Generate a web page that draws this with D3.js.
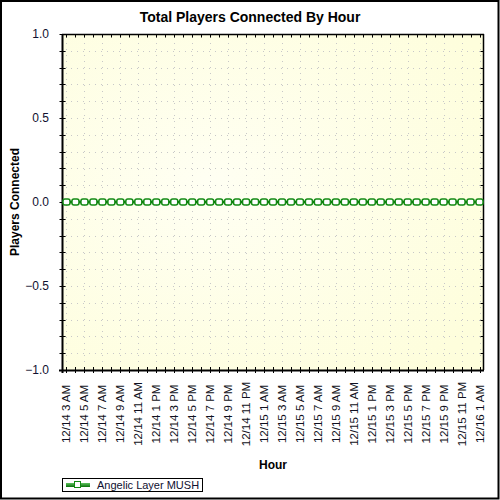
<!DOCTYPE html>
<html>
<head>
<meta charset="utf-8">
<script src="https://cdn.jsdelivr.net/npm/d3@7/dist/d3.min.js"></script>
<style>
  html, body { margin: 0; padding: 0; background: #fff; }
  svg { display: block; }
  text { font-family: Arial, "Liberation Sans", sans-serif; }
</style>
</head>
<body>
<svg id="chart" width="500" height="500"></svg>
<script>
// ---- data ----
const categories = [
  "12/14 3 AM","12/14 4 AM","12/14 5 AM","12/14 6 AM","12/14 7 AM","12/14 8 AM","12/14 9 AM","12/14 10 AM",
  "12/14 11 AM","12/14 12 PM","12/14 1 PM","12/14 2 PM","12/14 3 PM","12/14 4 PM","12/14 5 PM","12/14 6 PM",
  "12/14 7 PM","12/14 8 PM","12/14 9 PM","12/14 10 PM","12/14 11 PM",
  "12/15 12 AM","12/15 1 AM","12/15 2 AM","12/15 3 AM","12/15 4 AM","12/15 5 AM","12/15 6 AM","12/15 7 AM",
  "12/15 8 AM","12/15 9 AM","12/15 10 AM","12/15 11 AM","12/15 12 PM","12/15 1 PM","12/15 2 PM","12/15 3 PM",
  "12/15 4 PM","12/15 5 PM","12/15 6 PM","12/15 7 PM","12/15 8 PM","12/15 9 PM","12/15 10 PM","12/15 11 PM",
  "12/16 12 AM","12/16 1 AM"
];
const playersConnected = [
  0,0,0,0,0,0,0,0,0,0,0,0,0,0,0,0,0,0,0,0,0,
  0,0,0,0,0,0,0,0,0,0,0,0,0,0,0,0,0,0,0,0,0,0,0,0,
  0,0
];
const tickLabels = [
  "12/14 3 AM","12/14 5 AM","12/14 7 AM","12/14 9 AM","12/14 11 AM","12/14 1 PM","12/14 3 PM","12/14 5 PM",
  "12/14 7 PM","12/14 9 PM","12/14 11 PM","12/15 1 AM","12/15 3 AM","12/15 5 AM","12/15 7 AM","12/15 9 AM",
  "12/15 11 AM","12/15 1 PM","12/15 3 PM","12/15 5 PM","12/15 7 PM","12/15 9 PM","12/15 11 PM","12/16 1 AM"
];
const yMajorTicks = [-1.0, -0.5, 0.0, 0.5, 1.0];
const yMinorTicks = [-1.0,-0.9,-0.8,-0.7,-0.6,-0.5,-0.4,-0.3,-0.2,-0.1,0,0.1,0.2,0.3,0.4,0.5,0.6,0.7,0.8,0.9,1.0];
const seriesName = "Angelic Layer MUSH";
const chartTitle = "Total Players Connected By Hour";
const xTitle = "Hour";
const yTitle = "Players Connected";

// ---- layout ----
const svg = d3.select("#chart");
const W = 500, H = 500;
const plot = { left: 62, right: 484, top: 34, bottom: 370 };

const x = d3.scaleBand().domain(categories).range([plot.left, plot.right]).padding(0);
const cx = d => x(d) + x.bandwidth() / 2;
const y = d3.scaleLinear().domain([-1, 1]).range([plot.bottom, plot.top]);

// defs
const defs = svg.append("defs");
const bg = defs.append("radialGradient").attr("id", "bgGrad")
  .attr("cx", "35%").attr("cy", "45%").attr("r", "75%");
bg.append("stop").attr("offset", "0%").attr("stop-color", "#fffff3");
bg.append("stop").attr("offset", "100%").attr("stop-color", "#fefedc");
const lg = defs.append("linearGradient").attr("id", "legGrad")
  .attr("x1", 0).attr("y1", 0).attr("x2", 0).attr("y2", 1);
lg.append("stop").attr("offset", "0%").attr("stop-color", "#5fc25f");
lg.append("stop").attr("offset", "100%").attr("stop-color", "#0a700a");

// outer background and border
svg.append("rect").attr("x", 0).attr("y", 0).attr("width", W).attr("height", H).attr("fill", "#fff");
svg.append("rect").attr("x", 1).attr("y", 1).attr("width", W - 2.5).attr("height", H - 2.5)
  .attr("fill", "none").attr("stroke", "#000").attr("stroke-width", 2);

// plot background
svg.append("rect").attr("x", plot.left).attr("y", plot.top)
  .attr("width", plot.right - plot.left).attr("height", plot.bottom - plot.top)
  .attr("fill", "url(#bgGrad)");

// grid
const grid = svg.append("g").attr("stroke", "#c8c8c8").attr("stroke-width", 1)
  .attr("stroke-dasharray", "1,5");
grid.selectAll("line.v").data(tickLabels).join("line").attr("class", "v")
  .attr("x1", d => Math.round(cx(d)) + 0.5).attr("x2", d => Math.round(cx(d)) + 0.5)
  .attr("y1", plot.top + 3).attr("y2", plot.bottom);
grid.selectAll("line.h").data(yMinorTicks.slice(1, -1)).join("line").attr("class", "h")
  .attr("y1", d => Math.round(y(d)) + 0.5).attr("y2", d => Math.round(y(d)) + 0.5)
  .attr("x1", plot.left + 3).attr("x2", plot.right);

// axes
const axisColor = "#000";
// left axis
const leftAxis = d3.axisLeft(y).tickValues(yMinorTicks).tickSize(3).tickFormat("");
const gl = svg.append("g").attr("transform", `translate(${plot.left + 0.5},0)`).call(leftAxis);
gl.select(".domain").remove();
gl.selectAll(".tick line").attr("x2", -3).attr("x1", 3).attr("stroke", axisColor);
gl.selectAll(".tick").attr("transform", d => `translate(0,${Math.round(y(d)) + 0.5})`);
svg.append("line").attr("x1", plot.left + 0.5).attr("x2", plot.left + 0.5)
  .attr("y1", plot.top).attr("y2", plot.bottom + 3).attr("stroke", axisColor).attr("stroke-width", 2);

// y tick labels
const labAxis = d3.axisLeft(y).tickValues(yMajorTicks).tickSize(0).tickPadding(13)
  .tickFormat(d3.format(".1f"));
const gll = svg.append("g").attr("transform", `translate(${plot.left},0)`).call(labAxis);
gll.select(".domain").remove();
gll.selectAll(".tick text").attr("font-size", 12).attr("fill", "#101030")
  .attr("font-family", "Arial, 'Liberation Sans', sans-serif");

// right axis
const rightAxis = d3.axisRight(y).tickValues(yMinorTicks).tickSize(-3).tickFormat("");
const gr = svg.append("g").attr("transform", `translate(${plot.right - 0.5},0)`).call(rightAxis);
gr.select(".domain").remove();
gr.selectAll(".tick line").attr("stroke", axisColor);
gr.selectAll(".tick").attr("transform", d => `translate(0,${Math.round(y(d)) + 0.5})`);
svg.append("line").attr("x1", plot.right - 0.5).attr("x2", plot.right - 0.5)
  .attr("y1", plot.top).attr("y2", plot.bottom).attr("stroke", axisColor).attr("stroke-width", 1.5);

// bottom axis
const bottomAxis = d3.axisBottom(x).tickSize(3).tickFormat("");
const gb = svg.append("g").attr("transform", `translate(0,${plot.bottom})`).call(bottomAxis);
gb.select(".domain").remove();
gb.selectAll(".tick line").attr("y1", -3).attr("y2", 3).attr("stroke", axisColor);
gb.selectAll(".tick").attr("transform", d => `translate(${Math.round(cx(d)) + 0.5},0)`);
svg.append("line").attr("x1", plot.left - 3).attr("x2", plot.right)
  .attr("y1", plot.bottom + 0.5).attr("y2", plot.bottom + 0.5).attr("stroke", axisColor).attr("stroke-width", 2);

// top axis
const topAxis = d3.axisTop(x).tickSize(-3).tickFormat("");
const gt = svg.append("g").attr("transform", `translate(0,${plot.top + 0.5})`).call(topAxis);
gt.select(".domain").remove();
gt.selectAll(".tick line").attr("stroke", axisColor);
gt.selectAll(".tick").attr("transform", d => `translate(${Math.round(cx(d)) + 0.5},0)`);
svg.append("line").attr("x1", plot.left).attr("x2", plot.right)
  .attr("y1", plot.top + 0.5).attr("y2", plot.top + 0.5).attr("stroke", axisColor).attr("stroke-width", 1.5);

// x tick labels (rotated, centered)
const labelCenterY = 414;
svg.append("g").selectAll("text").data(tickLabels).join("text")
  .attr("transform", d => `translate(${cx(d) + 4},${labelCenterY}) rotate(-90)`)
  .attr("text-anchor", "middle")
  .attr("font-size", 11.5).attr("fill", "#101020")
  .text(d => d);

// series line
const line = d3.line().x((d, i) => cx(categories[i])).y(d => y(d));
svg.append("path").datum(playersConnected).attr("d", line)
  .attr("fill", "none").attr("stroke", "#0b6b0b").attr("stroke-width", 2.5);

// markers
svg.append("g").selectAll("rect").data(playersConnected).join("rect")
  .attr("x", (d, i) => cx(categories[i]) - 3.5).attr("y", d => y(d) - 3)
  .attr("width", 7).attr("height", 6).attr("rx", 2).attr("ry", 2)
  .attr("fill", "#fff").attr("stroke", "#138a13").attr("stroke-width", 1.5);

// titles
svg.append("text").attr("x", 250).attr("y", 22).attr("text-anchor", "middle")
  .attr("font-size", 14).attr("font-weight", "bold").attr("fill", "#000").text(chartTitle);
svg.append("text").attr("transform", `translate(19,${(plot.top + plot.bottom) / 2}) rotate(-90)`)
  .attr("text-anchor", "middle").attr("font-size", 12).attr("font-weight", "bold").attr("fill", "#000")
  .text(yTitle);
svg.append("text").attr("x", (plot.left + plot.right) / 2).attr("y", 469).attr("text-anchor", "middle")
  .attr("font-size", 12).attr("font-weight", "bold").attr("fill", "#000").text(xTitle);

// legend
const leg = svg.append("g");
leg.append("rect").attr("x", 62.5).attr("y", 478.5).attr("width", 140).attr("height", 13)
  .attr("fill", "#fff").attr("stroke", "#000").attr("stroke-width", 1);
leg.append("rect").attr("x", 66).attr("y", 483).attr("width", 24).attr("height", 4).attr("fill", "url(#legGrad)");
leg.append("rect").attr("x", 74.5).attr("y", 481.5).attr("width", 6).attr("height", 6)
  .attr("fill", "#fff").attr("stroke", "#138a13").attr("stroke-width", 1);
leg.append("text").attr("x", 97).attr("y", 489).attr("font-size", 11).attr("fill", "#101030").text(seriesName);
</script>
</body>
</html>
